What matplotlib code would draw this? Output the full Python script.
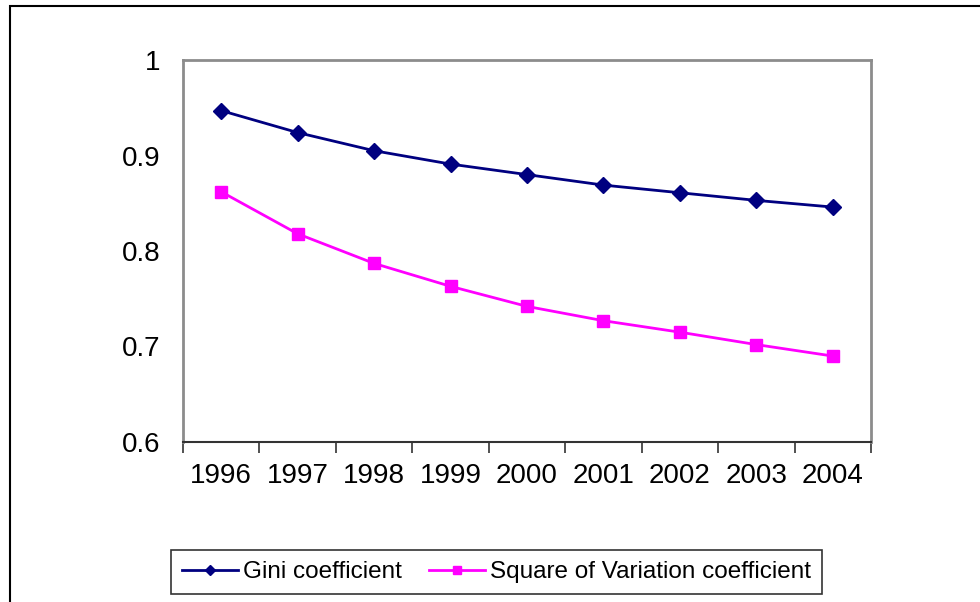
import numpy as np
import matplotlib.pyplot as plt
from matplotlib.patches import Rectangle

years = ['1996', '1997', '1998', '1999', '2000', '2001', '2002', '2003', '2004']
gini = [0.947, 0.924, 0.905, 0.891, 0.880, 0.869, 0.861, 0.853, 0.846]
sq_var = [0.862, 0.818, 0.787, 0.763, 0.742, 0.727, 0.715, 0.702, 0.690]
y_ticks = [0.6, 0.7, 0.8, 0.9, 1.0]
y_labels = ['0.6', '0.7', '0.8', '0.9', '1']

plt.rcParams['font.family'] = ['Liberation Sans', 'DejaVu Sans']

W, H = 980, 602
fig = plt.figure(figsize=(W / 100, H / 100), dpi=100)

# outer chart frame (cropped on the right and bottom in the original)
fig.patches.append(Rectangle((10 / W, -0.1), 1.2, 1 - 6 / H + 0.1,
                             transform=fig.transFigure, fill=False,
                             edgecolor='black', linewidth=1.5))

ax = fig.add_axes([183 / W, 1 - 442 / H, (871 - 183) / W, (442 - 60) / H])
x = np.arange(len(years))
l1, = ax.plot(x, gini, color='#000080', marker='D', markersize=8, linewidth=2,
              label='Gini coefficient')
l2, = ax.plot(x, sq_var, color='#FF00FF', marker='s', markersize=8.5, linewidth=2,
              label='Square of Variation coefficient')

ax.set_xlim(-0.5, len(years) - 0.5)
ax.set_ylim(0.6, 1.0)
ax.set_yticks(y_ticks)
ax.set_yticklabels(y_labels, fontsize=20)
ax.tick_params(axis='y', length=0, pad=16)

# category ticks sit between the years, labels in the middle
ax.set_xticks(np.arange(len(years) + 1) - 0.5)
ax.set_xticklabels([])
ax.set_xticks(x, minor=True)
ax.set_xticklabels(years, minor=True, fontsize=20)
ax.tick_params(axis='x', which='major', length=8, width=1.2, color='#333333',
               direction='out')
ax.tick_params(axis='x', which='minor', length=0, pad=15)

for side in ['top', 'left', 'right']:
    ax.spines[side].set_color('#8c8c8c')
    ax.spines[side].set_linewidth(2)
ax.spines['bottom'].set_color('#333333')
ax.spines['bottom'].set_linewidth(1.5)

leg = fig.legend(handles=[l1, l2], loc='center',
                 bbox_to_anchor=((165 + 828) / 2 / W, 1 - 572 / H),
                 ncol=2, frameon=True, fancybox=False, fontsize=17.5,
                 handlelength=2.3, handletextpad=0.2, columnspacing=1.1,
                 borderpad=0.45, borderaxespad=0, markerscale=0.7)
leg.get_frame().set_edgecolor('black')
leg.get_frame().set_linewidth(1.2)

fig.savefig('out.png', dpi=100)
